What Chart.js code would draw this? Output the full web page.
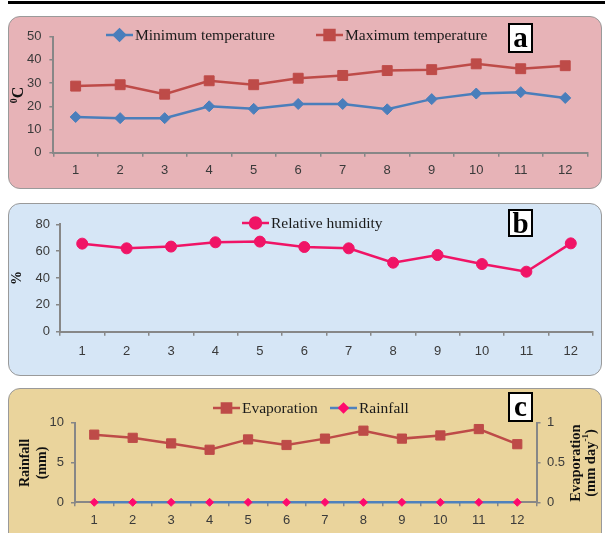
<!DOCTYPE html>
<html>
<head>
<meta charset="utf-8">
<script src="https://cdn.jsdelivr.net/npm/chart.js@4.4.1/dist/chart.umd.min.js"></script>
<style>
  html,body{margin:0;padding:0;background:#fff;}
  body{width:605px;height:533px;position:relative;overflow:hidden;}
  #topbar{position:absolute;left:8px;top:1px;width:597px;height:3px;background:#000;}
  .panel{position:absolute;left:8px;width:594px;border:1.5px solid #9a9a9a;border-radius:12px;box-sizing:border-box;}
  #pa{top:15.5px;height:173px;background:#e7b3b7;}
  #pb{top:202.5px;height:173px;background:#d6e6f6;}
  #pc{top:387.5px;height:160px;background:#ead49c;}
  canvas{position:absolute;left:0;}
  .tag{position:absolute;left:508px;width:25px;height:30px;box-sizing:border-box;border:2px solid #000;background:#fff;
       font:bold 29px "Liberation Serif",serif;color:#000;text-align:center;line-height:24px;}
</style>
</head>
<body>
<div id="topbar"></div>
<div class="panel" id="pa"></div>
<div class="panel" id="pb"></div>
<div class="panel" id="pc"></div>
<canvas id="ca" width="605" height="172" style="top:16px"></canvas>
<canvas id="cb" width="605" height="172" style="top:203px"></canvas>
<canvas id="cc" width="605" height="145" style="top:388px"></canvas>
<div class="tag" style="top:23px">a</div>
<div class="tag" style="top:209px;height:28px;line-height:24px">b</div>
<div class="tag" style="top:392px">c</div>
<script>
// ---- data ----
const months = ['1','2','3','4','5','6','7','8','9','10','11','12'];
const minTemp = [15.4, 14.9, 14.9, 20.0, 18.9, 21.0, 21.0, 18.7, 23.1, 25.5, 26.1, 23.6];
const maxTemp = [28.7, 29.3, 25.2, 31.0, 29.3, 32.1, 33.3, 35.4, 35.8, 38.3, 36.2, 37.5];
const humidity = [65.6, 62.1, 63.4, 66.6, 67.1, 63.1, 62.1, 51.4, 57.1, 50.4, 44.7, 65.8];
const evaporation = [0.85, 0.81, 0.74, 0.66, 0.79, 0.72, 0.80, 0.90, 0.80, 0.84, 0.92, 0.73];
const rainfall = [0, 0, 0, 0, 0, 0, 0, 0, 0, 0, 0, 0];
const tempAxis = [0, 50, 10];      // min, max, step
const humidityAxis = [0, 80, 20];
const rainAxis = [0, 10, 5];
const evapAxis = [0, 1, 0.5];

// ---- styles ----
const AX = '#878787';
const TICKFONT = {family: '"Liberation Sans", Arial, sans-serif', size: 13};
const TICKCOL = '#3a3a3a';
const LEGFONT = '15.5px "Liberation Serif", "Times New Roman", serif';

function makeDeco(cfg){
  return {
    id: 'deco',
    afterDraw(chart){
      const ctx = chart.ctx;
      ctx.save();
      (cfg.legend || []).forEach(it => {
        const ds = chart.data.datasets[it.index];
        ctx.strokeStyle = ds.borderColor;
        ctx.lineWidth = ds.borderWidth;
        ctx.beginPath();
        ctx.moveTo(it.x, it.y); ctx.lineTo(it.x + 27, it.y);
        ctx.stroke();
        ctx.fillStyle = ds.pointBackgroundColor;
        ctx.strokeStyle = ds.pointBorderColor;
        Chart.helpers.drawPoint(ctx, {pointStyle: ds.pointStyle, radius: ds.pointRadius, rotation: 0, borderWidth: 1}, it.x + 13.5, it.y);
        ctx.fillStyle = '#1a1a1a';
        ctx.font = LEGFONT;
        ctx.textBaseline = 'middle';
        ctx.textAlign = 'left';
        ctx.fillText(ds.label, it.x + 29, it.y + 1);
      });
      (cfg.titles || []).forEach(t => {
        ctx.save();
        ctx.translate(t.x, t.y);
        ctx.rotate(-Math.PI / 2);
        ctx.fillStyle = '#111';
        ctx.textBaseline = 'middle';
        ctx.textAlign = 'left';
        let w = 0;
        t.parts.forEach(p => { ctx.font = p.font; w += ctx.measureText(p.text).width; });
        let x = -w / 2;
        t.parts.forEach(p => { ctx.font = p.font; ctx.fillText(p.text, x, p.dy || 0); x += ctx.measureText(p.text).width; });
        ctx.restore();
      });
      ctx.restore();
    }
  };
}

function xScale(height, pad){
  return {
    offset: true,
    grid: {offset: true, drawOnChartArea: false, tickLength: 4, color: AX, lineWidth: 1.5},
    border: {color: AX, width: 2},
    ticks: {font: TICKFONT, color: TICKCOL, padding: pad, maxRotation: 0, autoSkip: false},
    afterFit: s => { s.height = height; }
  };
}
function yScale(range, width, pad, pos){
  return {
    position: pos || 'left',
    min: range[0], max: range[1],
    grid: {drawOnChartArea: false, tickLength: 4, color: AX, lineWidth: 1.5},
    border: {color: AX, width: 2},
    ticks: {stepSize: range[2], font: TICKFONT, color: TICKCOL, padding: pad,
            callback: v => String(Number(v))},
    afterFit: s => { s.width = width; }
  };
}
function lineDs(label, data, color, ptColor, style, radius, axis){
  return {
    label, data, borderColor: color, backgroundColor: ptColor,
    pointBackgroundColor: ptColor, pointBorderColor: ptColor,
    pointStyle: style, pointRadius: radius, pointBorderWidth: 1,
    borderWidth: 2.5, tension: 0, clip: false, yAxisID: axis || 'y'
  };
}
const base = {responsive: false, animation: false, devicePixelRatio: 1,
  plugins: {legend: {display: false}, tooltip: {enabled: false}}};

const SERIF_B = '"Liberation Serif", "Times New Roman", serif';

// ---- panel a ----
new Chart(document.getElementById('ca'), {
  type: 'line',
  data: {labels: months, datasets: [
    lineDs('Minimum temperature', minTemp, '#4a7ebb', '#4a7ebb', 'rectRot', 5.5),
    lineDs('Maximum temperature', maxTemp, '#be4b48', '#be4b48', 'rect', 7)
  ]},
  options: Object.assign({}, base, {
    layout: {padding: {left: 0, right: 17.5, top: 20.7, bottom: 0}},
    scales: {x: xScale(35.3, 6), y: yScale(tempAxis, 53.4, 8)}
  }),
  plugins: [makeDeco({
    legend: [{index: 0, x: 106, y: 19}, {index: 1, x: 316, y: 19}],
    titles: [{x: 19, y: 79, parts: [
      {text: '0', font: 'bold 10px ' + SERIF_B, dy: -5},
      {text: 'C', font: 'bold 16px ' + SERIF_B}
    ]}]
  })]
});

// ---- panel b ----
new Chart(document.getElementById('cb'), {
  type: 'line',
  data: {labels: months, datasets: [
    lineDs('Relative humidity', humidity, '#f01466', '#f01466', 'circle', 5.5)
  ]},
  options: Object.assign({}, base, {
    layout: {padding: {left: 0, right: 12, top: 21.3, bottom: 0}},
    scales: {x: xScale(43.3, 7.5), y: yScale(humidityAxis, 60, 6)}
  }),
  plugins: [makeDeco({
    legend: [{index: 0, x: 242, y: 20}],
    titles: [{x: 17, y: 75, parts: [{text: '%', font: 'bold 14px ' + SERIF_B}]}]
  })]
});

// ---- panel c ----
new Chart(document.getElementById('cc'), {
  type: 'line',
  data: {labels: months, datasets: [
    lineDs('Evaporation', evaporation, '#be4b48', '#be4b48', 'rect', 6.5, 'y1'),
    lineDs('Rainfall', rainfall, '#4f81bd', '#ff0a6c', 'rectRot', 4, 'y')
  ]},
  options: Object.assign({}, base, {
    layout: {padding: {left: 0, right: 0, top: 34.7, bottom: 0}},
    scales: {
      x: xScale(30.7, 6),
      y: yScale(rainAxis, 75, 7),
      y1: yScale(evapAxis, 68.5, 6.5, 'right')
    }
  }),
  plugins: [makeDeco({
    legend: [{index: 0, x: 213, y: 20}, {index: 1, x: 330, y: 20}],
    titles: [
      {x: 25, y: 75, parts: [{text: 'Rainfall', font: 'bold 14px ' + SERIF_B}]},
      {x: 42, y: 75, parts: [{text: '(mm)', font: 'bold 14px ' + SERIF_B}]},
      {x: 576, y: 75, parts: [{text: 'Evaporation', font: 'bold 14.5px ' + SERIF_B}]},
      {x: 591, y: 75, parts: [
        {text: '(mm day', font: 'bold 14.5px ' + SERIF_B},
        {text: '-1', font: 'bold 9px ' + SERIF_B, dy: -5},
        {text: ')', font: 'bold 14.5px ' + SERIF_B}
      ]}
    ]
  })]
});
</script>
</body>
</html>
